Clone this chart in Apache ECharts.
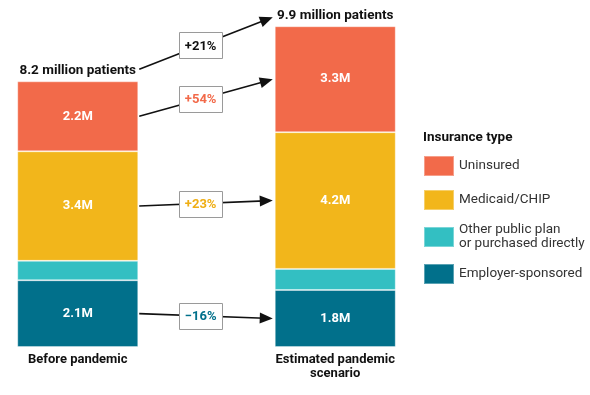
<!DOCTYPE html>
<html><head><meta charset="utf-8">
<script src="https://cdn.jsdelivr.net/npm/echarts@6/dist/echarts.min.js"></script>
<style>html,body{margin:0;padding:0;background:#fff}#c{width:590px;height:395px}</style>
</head><body><div id="c"></div>
<script>
const categories = ['Before pandemic', 'Estimated pandemic\nscenario'];
const employer = [2.06, 1.76];
const otherPublic = [0.60, 0.65];
const medicaid = [3.38, 4.22];
const uninsured = [2.16, 3.27];
const totalLabels = ['8.2 million patients', '9.9 million patients'];
// change labels: total, uninsured, medicaid, employer
const changeLabels = ['+21%', '+54%', '+23%', '\u221216%'];
const seriesNames = ['Employer-sponsored', 'Other public plan or purchased directly', 'Medicaid/CHIP', 'Uninsured'];
const colors = ['#01708B', '#33BFC2', '#F2B61B', '#F26A4A'];

const FONT = 'Roboto';
const chart = echarts.init(document.getElementById('c'), null, {renderer: 'canvas'});
const BAR_W = 121;
const dataSets = [employer, otherPublic, medicaid, uninsured];
const series = dataSets.map((d, i) => ({
  name: seriesNames[i], type: 'bar', stack: 'all', data: d, barWidth: BAR_W,
  itemStyle: {color: colors[i], borderColor: 'rgba(255,255,255,0.35)', borderWidth: 1},
  label: {show: i !== 1, position: 'inside', color: '#fff', fontFamily: FONT, fontWeight: 'bold', fontSize: 13,
    formatter: p => p.value.toFixed(1) + 'M'},
  emphasis: {disabled: true}, animation: false
}));

chart.setOption({
  animation: false,
  textStyle: {fontFamily: FONT},
  title: {text: 'Insurance type', left: 423, top: 131, padding: 0,
    textStyle: {fontFamily: FONT, fontWeight: 'bold', fontSize: 13.5, color: '#111'}},
  legend: {orient: 'vertical', left: 423, top: 155, padding: 0, itemWidth: 30, itemHeight: 20, itemGap: 12,
    data: ['Uninsured', 'Medicaid/CHIP', 'Other public plan or purchased directly', 'Employer-sponsored'],
    icon: 'rect', selectedMode: false,
    formatter: n => n === 'Other public plan or purchased directly' ? 'Other public plan\nor purchased directly' : n,
    textStyle: {fontFamily: FONT, fontSize: 13.5, color: '#333', lineHeight: 14, padding: [0, 0, 0, 0]}},
  grid: {left: -51, width: 515, top: 23, bottom: 48, outerBoundsMode: 'none', containLabel: false},
  xAxis: {type: 'category', data: categories, axisLine: {show: false}, axisTick: {show: false},
    axisLabel: {interval: 0, margin: 6, fontFamily: FONT, fontWeight: 'bold', fontSize: 13, color: '#111', lineHeight: 14}},
  yAxis: {type: 'value', min: 0, max: 10, show: false, splitLine: {show: false}},
  series: series
});

function px(ci, v) { return chart.convertToPixel({gridIndex: 0}, [ci, v]); }
const graphics = [];
const tops = [0, 1].map(ci => dataSets.reduce((s, d) => s + d[ci], 0));
// total labels
[0, 1].forEach(ci => {
  const p = px(ci, tops[ci]);
  graphics.push({type: 'text', x: p[0], y: p[1] - 11, style: {text: totalLabels[ci], fill: '#111',
    font: 'bold 13.5px ' + FONT, textAlign: 'center', textVerticalAlign: 'middle'}});
});
function arrow(s, e, label, color) {
  graphics.push({type: 'line', shape: {x1: s[0], y1: s[1], x2: e[0] - 8, y2: e[1] - (e[1] - s[1]) * 8 / (e[0] - s[0])},
    style: {stroke: '#111', lineWidth: 1.6}});
  const ang = Math.atan2(e[1] - s[1], e[0] - s[0]);
  const L = 13, W = 5.5;
  const bx = e[0] - L * Math.cos(ang), by = e[1] - L * Math.sin(ang);
  graphics.push({type: 'polygon', shape: {points: [[e[0], e[1]],
    [bx + W * Math.sin(ang), by - W * Math.cos(ang)], [bx - W * Math.sin(ang), by + W * Math.cos(ang)]]},
    style: {fill: '#111'}});
  const t = 0.46;
  const cx = s[0] + (e[0] - s[0]) * t, cy = s[1] + (e[1] - s[1]) * t;
  graphics.push({type: 'rect', shape: {x: Math.round(cx - 21.5) + 0.5, y: Math.round(cy - 13) + 0.5, width: 43, height: 26},
    style: {fill: '#fff', stroke: '#9a9a9a', lineWidth: 1}});
  graphics.push({type: 'text', x: cx, y: cy + 1, style: {text: label, fill: color, font: 'bold 13px ' + FONT,
    textAlign: 'center', textVerticalAlign: 'middle'}});
}
const half = BAR_W / 2;
// total arrow
{
  const a = px(0, tops[0]), b = px(1, tops[1]);
  arrow([a[0] + half + 1, a[1] - 12], [b[0] - half - 2, b[1] - 9], changeLabels[0], '#111');
}
function mid(si, ci) {
  let base = 0; for (let k = 0; k < si; k++) base += dataSets[k][ci];
  return px(ci, base + dataSets[si][ci] / 2);
}
[[3, 1, colors[3]], [2, 2, '#EFAE14'], [0, 3, colors[0]]].forEach(([si, li, col]) => {
  const a = mid(si, 0), b = mid(si, 1);
  arrow([a[0] + half + 1, a[1]], [b[0] - half - 2, b[1]], changeLabels[li], col);
});
chart.setOption({graphic: {elements: graphics}});
</script></body></html>
